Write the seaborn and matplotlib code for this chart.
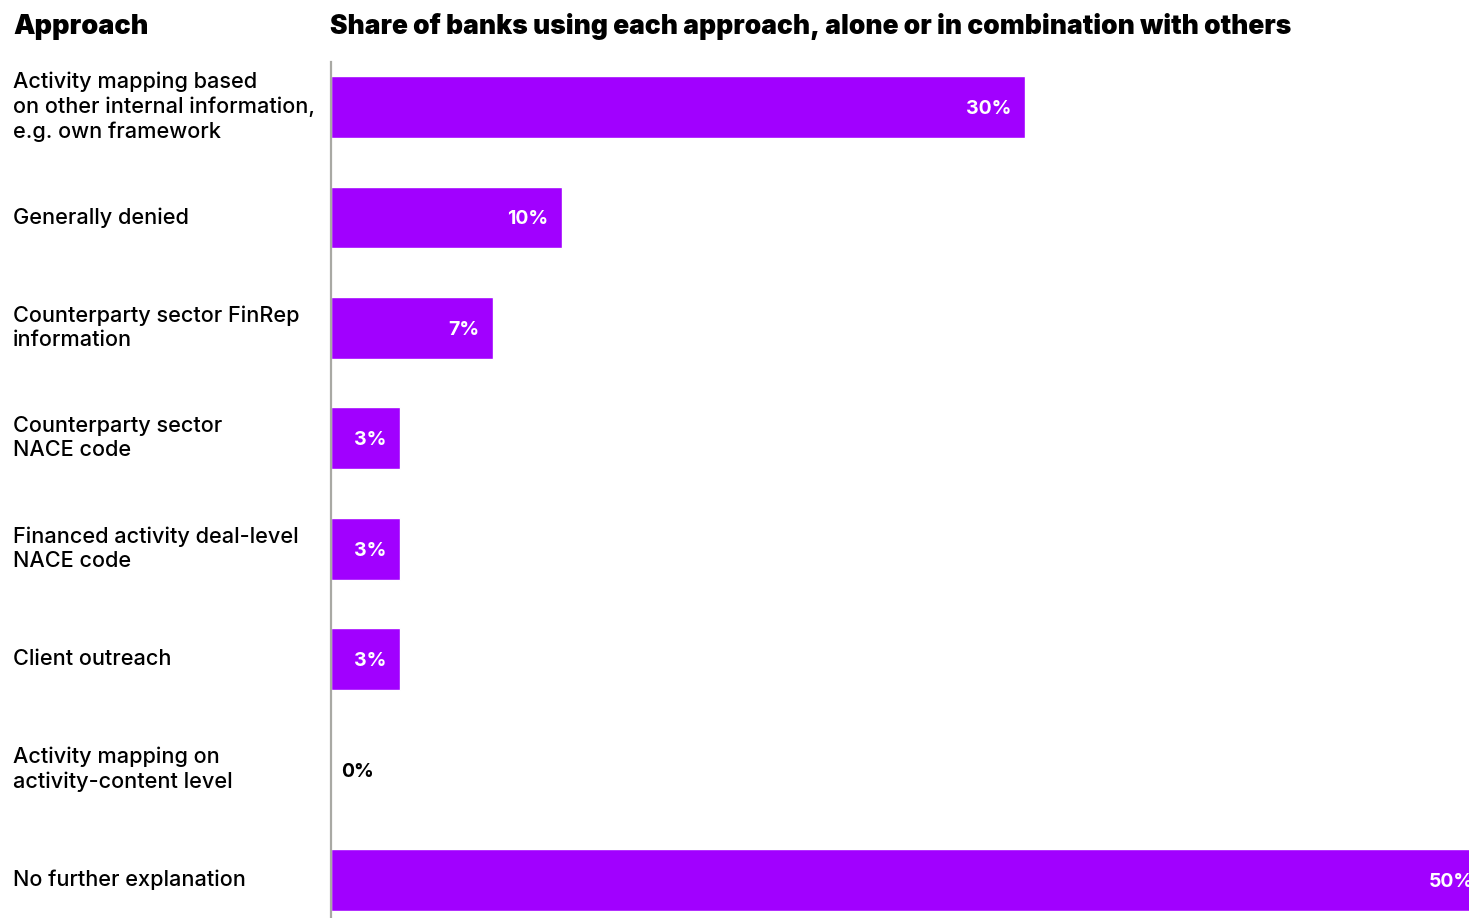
import matplotlib
matplotlib.use("Agg")
import matplotlib.pyplot as plt
import matplotlib.transforms as mtransforms
import seaborn as sns
import pandas as pd

approaches = [
    "Activity mapping based\non other internal information,\ne.g. own framework",
    "Generally denied",
    "Counterparty sector FinRep\ninformation",
    "Counterparty sector\nNACE code",
    "Financed activity deal-level\nNACE code",
    "Client outreach",
    "Activity mapping on\nactivity-content level",
    "No further explanation",
]
shares = [30, 10, 7, 3, 3, 3, 0, 50]
value_labels = ["30%", "10%", "7%", "3%", "3%", "3%", "0%", "50%"]

PURPLE = "#A100FF"
FONT = "Inter"

sns.set_theme(style="white")
plt.rcParams["font.family"] = [FONT, "DejaVu Sans"]

df = pd.DataFrame({"approach": approaches, "share": shares})

W, H = 1469, 918
fig = plt.figure(figsize=(W / 100, H / 100), dpi=100)
ax = fig.add_axes([331 / W, 0.0, (1488 - 331) / W, 856 / H])

sns.barplot(data=df, x="share", y="approach", orient="h", color=PURPLE,
            width=0.56, saturation=1, ax=ax, order=approaches)

ax.set_xlim(0, 50)
ax.set_ylim(7.344, -0.4076)
ax.set_xlabel("")
ax.set_ylabel("")
ax.set_xticks([])
ax.set_yticks([])
for s in ["top", "right", "bottom"]:
    ax.spines[s].set_visible(False)
ax.spines["left"].set_color("#a9a9a4")
ax.spines["left"].set_linewidth(1.6)

# category labels in the left margin
lab_tr = mtransforms.blended_transform_factory(fig.transFigure, ax.transData)
for i, name in enumerate(approaches):
    ax.text(13 / W, i, name, transform=lab_tr, ha="left", va="center",
            fontsize=15.6, fontweight="medium", color="black",
            linespacing=1.27, clip_on=False)

# value labels: inside the bar end, or just outside when the bar is empty
px = 50 / (1488 - 331)
for i, (v, lab) in enumerate(zip(shares, value_labels)):
    if v > 0:
        ax.text(v - 14 * px, i, lab, ha="right", va="center_baseline",
                fontsize=14, fontweight="bold", color="white",
                clip_on=False)
    else:
        ax.text(10 * px, i, lab, ha="left", va="center_baseline",
                fontsize=14, fontweight="bold", color="black",
                clip_on=False)

fig.text(13 / W, 1 - 34 / H, "Approach", ha="left", va="baseline",
         fontsize=19.5, fontweight="black", color="black")
fig.text(330 / W, 1 - 34 / H,
         "Share of banks using each approach, alone or in combination with others",
         ha="left", va="baseline", fontsize=19, fontweight="black",
         color="black")

fig.savefig("out.png", dpi=100)
